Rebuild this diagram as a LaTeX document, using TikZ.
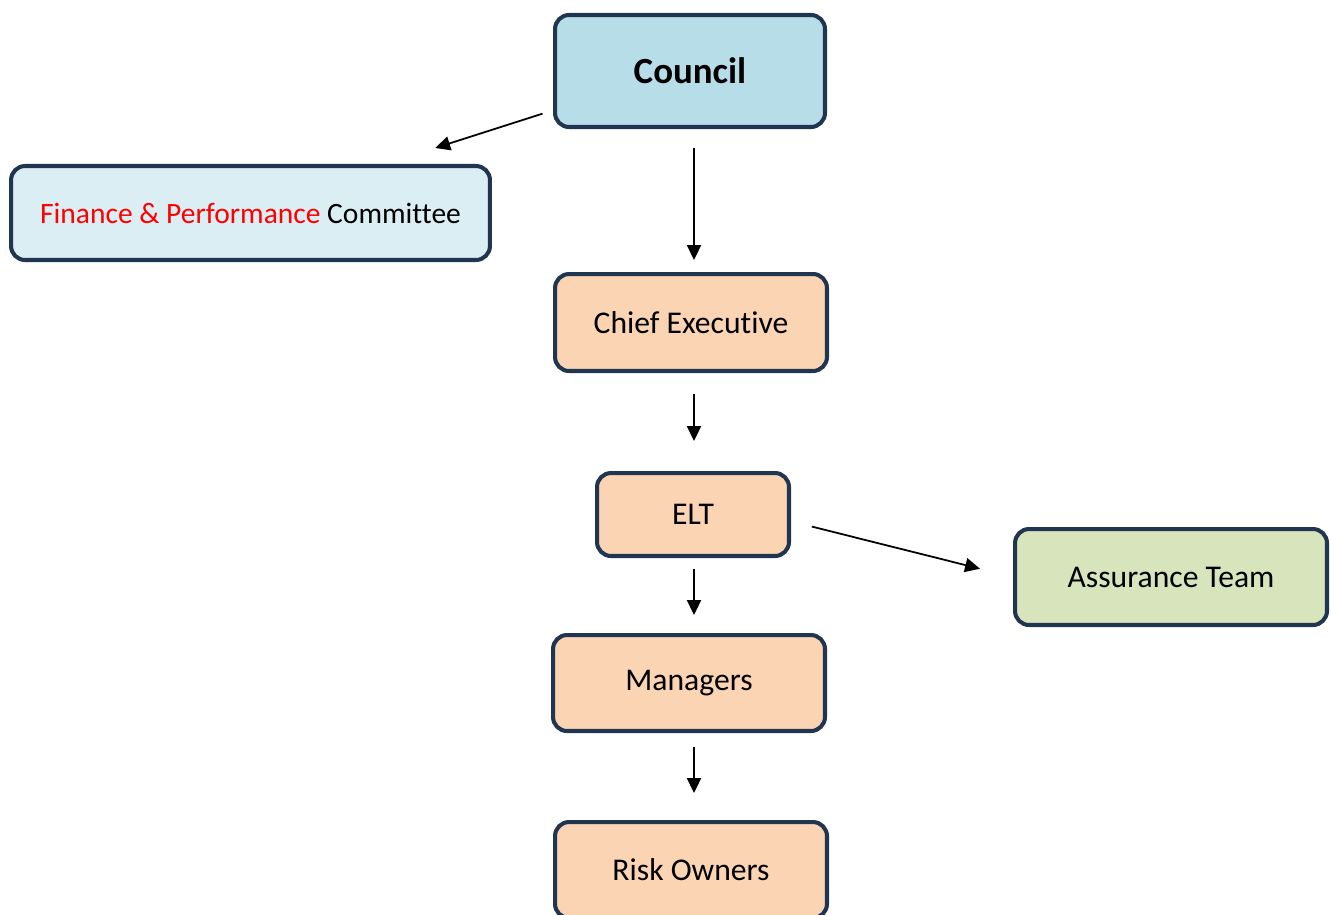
\documentclass[tikz,border=0pt]{standalone}
\usepackage{fontspec}
\setmainfont{Carlito}[RawFeature={-liga}]
\usetikzlibrary{arrows.meta}
\definecolor{boxline}{HTML}{1F3550}
\definecolor{councilfill}{HTML}{B7DDE8}
\definecolor{committeefill}{HTML}{DBEEF4}
\definecolor{stafffill}{HTML}{FBD4B4}
\definecolor{assurefill}{HTML}{D7E4BC}
\definecolor{textred}{HTML}{FF0000}
\begin{document}
\begin{tikzpicture}[x=0.02cm, y=-0.02cm,
        unit/.style={rectangle, draw=boxline, line width=2.3pt, rounded corners=8pt,
            font=\fontsize{18}{22}\selectfont, inner sep=0pt},
        council/.style={unit, fill=councilfill, font=\fontsize{21}{25}\selectfont\bfseries},
        committee/.style={unit, fill=committeefill, font=\fontsize{16.8}{20}\selectfont},
        staff/.style={unit, fill=stafffill},
        assure/.style={unit, fill=assurefill},
        arrow/.style={-{Triangle[length=8.5pt,width=8pt]}, line width=1pt}
    ]
        \useasboundingbox (0,0) rectangle (1331,914);

        % Council and committee
        \node[council, minimum width=5.4cm, minimum height=2.24cm] (council) at (690,71) {Council};
        \node[committee, minimum width=9.58cm, minimum height=1.88cm] (committee) at (250.5,213)
            {\textcolor{textred}{Finance \& Performance} Committee};

        % Officers
        \node[staff, minimum width=5.44cm, minimum height=1.94cm] (chief) at (691,322.5) {Chief Executive};
        \node[staff, minimum width=3.84cm, minimum height=1.66cm] (elt) at (693,514.5) {ELT};
        \node[staff, minimum width=5.44cm, minimum height=1.92cm] (managers) at (689,683) {Managers};
        \node[staff, minimum width=5.44cm, minimum height=1.92cm] (owners) at (691,870) {Risk Owners};

        % Assurance
        \node[assure, minimum width=6.24cm, minimum height=1.92cm] (assurance) at (1171,577) {Assurance Team};

        \draw[arrow, shorten <=0.22cm, shorten >=1.05cm] (council.196) -- (committee.20);
        \draw[arrow, shorten <=0.38cm, shorten >=0.24cm] ([xshift=0.08cm]council.south) -- ([xshift=0.06cm]chief.north);
        \draw[arrow, shorten <=0.42cm, shorten >=0.6cm] ([xshift=0.06cm]chief.south) -- ([xshift=0.02cm]elt.north);
        \draw[arrow, shorten <=0.22cm, shorten >=0.36cm] ([xshift=0.02cm]elt.south) -- ([xshift=0.1cm]managers.north);
        \draw[arrow, shorten <=0.28cm, shorten >=0.54cm] ([xshift=0.1cm]managers.south) -- ([xshift=0.06cm]owners.north);
        \draw[arrow, shorten <=0.43cm, shorten >=0.68cm] (elt.-4) -- (assurance.west);
    \end{tikzpicture}
\end{document}
